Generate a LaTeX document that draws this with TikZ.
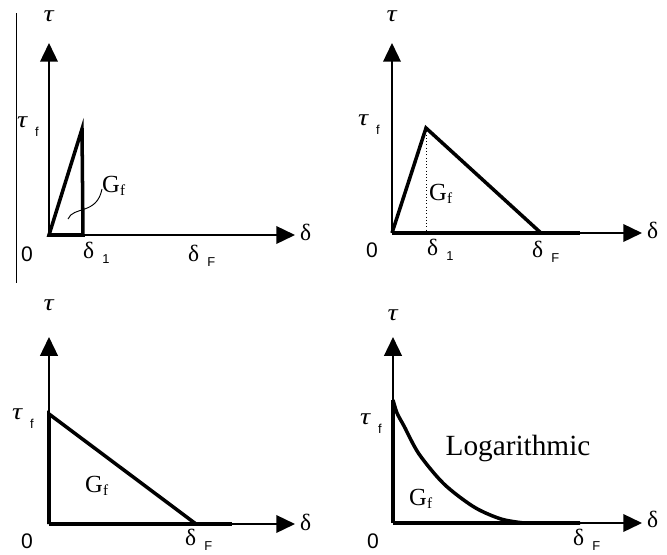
\documentclass[tikz,border=0pt]{standalone}
\usepackage{fontspec}
\setmainfont{Liberation Serif}
\setsansfont{Liberation Sans}
\usetikzlibrary{arrows.meta}
\newcommand{\tauch}{\scalebox{1.2}[1]{\textit{τ}}}
\newcommand{\tsub}[1]{\hspace{6pt}\raisebox{-8pt}{\sffamily\fontsize{11}{11}\selectfont #1}}
\newcommand{\dsub}[1]{\hspace{7pt}\raisebox{-5pt}{\sffamily\fontsize{11}{11}\selectfont #1}}
\newcommand{\Gf}{G\raisebox{-3pt}{\fontsize{13}{13}\selectfont f}}
\tikzset{
  axisline/.style={line width=1.7pt, -{Triangle[length=16pt,width=15pt]}},
  law/.style={line width=3pt},
  leader/.style={line width=0.8pt},
  greek/.style={font=\fontsize{20}{22}\selectfont, inner sep=0pt},
  zero/.style={font=\sffamily\fontsize{18}{20}\selectfont, inner sep=0pt, anchor=base},
  area/.style={font=\fontsize{21}{23}\selectfont, inner sep=0pt, anchor=base west}
}
\begin{document}
\begin{tikzpicture}[x=0.03cm,y=-0.03cm]
  \useasboundingbox (0,0) rectangle (667,554);
  % origins and axis tips
  \coordinate (O1) at (49,235);  \coordinate (X1) at (295,235); \coordinate (Y1) at (49,43);
  \coordinate (O2) at (392,233); \coordinate (X2) at (642,233); \coordinate (Y2) at (392,43);
  \coordinate (O3) at (49,524);  \coordinate (X3) at (295,524); \coordinate (Y3) at (49,337);
  \coordinate (O4) at (393,523); \coordinate (X4) at (642,523); \coordinate (Y4) at (393,337);
  \foreach \n in {1,...,4}{
    \draw[axisline] (O\n) -- (X\n);
    \draw[axisline] (O\n) -- (Y\n);
  }
  % left edge line
  \coordinate (edgeT) at (16.5,13);
  \coordinate (edgeB) at (16.5,283);
  \draw[line width=0.9pt] (edgeT) -- (edgeB);

  % panel 1: bilinear, sudden drop
  \coordinate (pk1) at (82,129);
  \coordinate (d1) at (83,235);
  \draw[law] (O1) -- (pk1) -- (d1) -- cycle;
  \coordinate (ldA) at (68,219);
  \coordinate (ldB) at (102,189);
  \draw[leader] (ldA) .. controls (73,206) and (97,215) .. (ldB);
  \node[greek, anchor=base] (tau1) at (49,21) {\tauch};
  \node[greek, anchor=base west] (tauf1) at (17,127) {\tauch\tsub{f}};
  \node[area] (gf1) at (102,192) {\Gf};
  \node[zero] (zero1) at (27,261) {0};
  \node[greek, anchor=base west] (dI1) at (83,258) {δ\dsub{1}};
  \node[greek, anchor=base west] (dF1) at (188,261) {δ\dsub{F}};
  \node[greek, anchor=base west] (del1) at (300,240) {δ};

  % panel 2: bilinear softening
  \coordinate (pk2) at (426,128);
  \coordinate (dF2) at (541,233);
  \coordinate (end2) at (580,233);
  \draw[law] (O2) -- (pk2) -- (dF2);
  \draw[law] (O2) -- (end2);
  \draw[line width=0.8pt, dotted] (pk2) -- (pk2 |- O2);
  \node[greek, anchor=base] (tau2) at (392,21) {\tauch};
  \node[greek, anchor=base west] (tauf2) at (358,125) {\tauch\tsub{f}};
  \node[area] (gf2) at (429,200) {\Gf};
  \node[zero] (zero2) at (372,257) {0};
  \node[greek, anchor=base west] (dI2) at (427,255) {δ\dsub{1}};
  \node[greek, anchor=base west] (dF2l) at (532,257) {δ\dsub{F}};
  \node[greek, anchor=base west] (del2) at (647,238) {δ};

  % panel 3: linear softening
  \coordinate (tf3) at (49,414);
  \coordinate (dF3) at (196,524);
  \coordinate (end3) at (232,524);
  \draw[law] (O3) -- (tf3) -- (dF3);
  \draw[law] (O3) -- (end3);
  \node[greek, anchor=base] (tau3) at (49,310) {\tauch};
  \node[greek, anchor=base west] (tauf3) at (12,419) {\tauch\tsub{f}};
  \node[area] (gf3) at (85,492) {\Gf};
  \node[zero] (zero3) at (27,548) {0};
  \node[greek, anchor=base west] (dF3l) at (185,545) {δ\dsub{F}};
  \node[greek, anchor=base west] (del3) at (300,530) {δ};

  % panel 4: logarithmic softening
  \coordinate (tf4) at (393,400);
  \coordinate (dF4) at (524,523);
  \coordinate (end4) at (580,523);
  \draw[law] (O4) -- (tf4);
  \draw[law] (O4) -- (end4);
  \draw[law] plot[smooth] coordinates {(393,400) (397,413) (404,426) (419,454) (444,484) (474,507) (501,519) (524,523)} -- (end4);
  \node[greek, anchor=base] (tau4) at (393,320) {\tauch};
  \node[greek, anchor=base west] (tauf4) at (360,424) {\tauch\tsub{f}};
  \node[area] (gf4) at (409,505) {\Gf};
  \node[font=\fontsize{25}{28}\selectfont, inner sep=0pt, anchor=base] (logn) at (518,455) {Logarithmic};
  \node[zero] (zero4) at (373,548) {0};
  \node[greek, anchor=base west] (dF4l) at (573,545) {δ\dsub{F}};
  \node[greek, anchor=base west] (del4) at (647,527) {δ};
\end{tikzpicture}
\end{document}
